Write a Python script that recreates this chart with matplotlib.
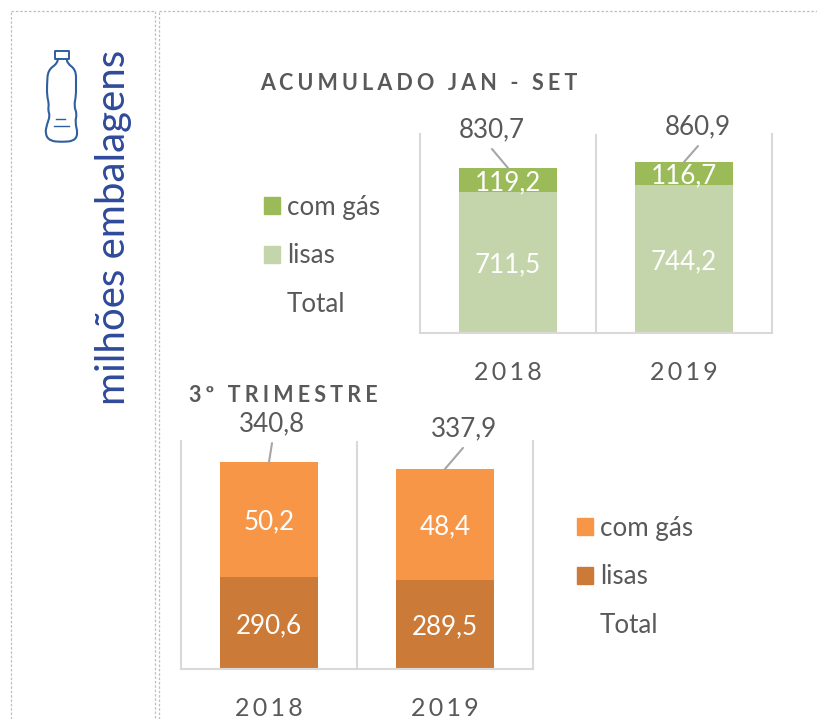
#!/usr/bin/env python3
"""Bottled water volumes: cumulative Jan-Sep (top) and third quarter (bottom)."""

import numpy as np
import matplotlib
matplotlib.use("Agg")
import matplotlib.pyplot as plt
from matplotlib.patches import Patch, PathPatch
from matplotlib.path import Path

# --- Data ---
years = ["2018", "2019"]
acum_lisas = [711.5, 744.2]
acum_gas = [119.2, 116.7]
acum_total = [830.7, 860.9]
trim_lisas = [290.6, 289.5]
trim_gas = [50.2, 48.4]
trim_total = [340.8, 337.9]
# the source draws the 3rd quarter segments out of proportion to their labels,
# so these are the heights
trim_lisas_drawn = [151.5, 146.6]
trim_gas_drawn = [189.3, 183.0]

W, H = 817, 719
GREY = "#595959"
BLUE = "#2F4A9A"
BOTTLE = "#2F5F9F"
HAIR = "\u200a"

plt.rcParams["font.family"] = ["Lato", "DejaVu Sans"]
plt.rcParams["font.size"] = 18.7

fig = plt.figure(figsize=(W / 100, H / 100), dpi=100)


def spaced(s, n=2):
    return (HAIR * n).join(s)


def px_axes(x0, y0, x1, y1):
    # axes from pixel box, y measured from the top
    return fig.add_axes([x0 / W, 1 - y1 / H, (x1 - x0) / W, (y1 - y0) / H])


def comma(v):
    return f"{v:.1f}".replace(".", ",")


def stacked(ax, low, high, low_txt, high_txt, total, c_low, c_high, ymax, label_off, leader_off):
    x = np.arange(len(years))
    b1 = ax.bar(x, low, 0.557, color=c_low)
    b2 = ax.bar(x, high, 0.557, bottom=low, color=c_high)
    inside = ax.bar_label(b1, labels=[comma(v) for v in low_txt], label_type="center", color="white")
    inside += ax.bar_label(b2, labels=[comma(v) for v in high_txt], label_type="center", color="white")
    for t in inside:
        t.set_va("center_baseline")
    tops = np.add(low, high)
    for i, t in enumerate(total):
        dx, dy = label_off[i]
        ax.annotate(comma(t), (i, tops[i]), xytext=(dx * 0.72, dy * 0.72),
                    textcoords="offset points", ha="center", va="center", color=GREY,
                    annotation_clip=False)
        lx, ly = leader_off[i]
        ax.annotate("", (i, tops[i]), xytext=(lx * 0.72, ly * 0.72),
                    textcoords="offset points", annotation_clip=False,
                    arrowprops=dict(arrowstyle="-", color="#A6A6A6", lw=1.5,
                                    shrinkA=0, shrinkB=0))
    ax.set_xlim(-0.5, 1.5)
    ax.set_ylim(0, ymax)
    ax.set_xticks(x, [spaced(y) for y in years], color=GREY, fontsize=18)
    ax.tick_params(axis="x", length=0, pad=20)
    ax.set_yticks([])
    ax.set_xticks([0.5], minor=True)
    ax.tick_params(axis="x", which="minor", length=0)
    ax.grid(True, axis="x", which="minor", color="#D9D9D9", lw=1.5)
    ax.set_axisbelow(True)
    ax.spines["top"].set_visible(False)
    for s in ["left", "right", "bottom"]:
        ax.spines[s].set_color("#D9D9D9")
        ax.spines[s].set_linewidth(1.5)


def add_legend(ax, colors, x, y):
    handles = [Patch(color=colors[0], label="com gás"), Patch(color=colors[1], label="lisas"),
               Patch(facecolor="none", edgecolor="none", label="Total")]
    ax.legend(handles=handles, loc="center left", frameon=False,
              bbox_to_anchor=(x / W, 1 - y / H), bbox_transform=fig.transFigure,
              handlelength=0.62, handleheight=0.62, handletextpad=0.27,
              labelspacing=0.92, borderpad=0, borderaxespad=0, labelcolor=GREY)


# --- Overlay for panels, bottle and titles (pixel coordinates) ---
bg = fig.add_axes([0, 0, 1, 1])
bg.set_xlim(0, W)
bg.set_ylim(H, 0)
bg.axis("off")
dash = dict(color="#BFBFBF", lw=0.9, ls=(0, (2, 1.5)))
bg.plot([11, 11], [H, 11], **dash)
bg.plot([11, 155], [11, 11], **dash)
bg.plot([155, 155], [11, H], **dash)
bg.plot([159, 159], [H, 11], **dash)
bg.plot([159, W], [11, 11], **dash)

# bottle icon, body as a smooth outline through control points
body = np.array([(58, 58), (58, 63), (48, 70), (47, 84), (47, 96), (49, 104), (48, 110),
                 (50, 116), (47, 124), (45, 134), (50, 141), (62, 142), (74, 141), (78, 134),
                 (75, 122), (77, 114), (74, 106), (76, 96), (76, 84), (76, 70), (67, 63),
                 (67, 58)], dtype=float)
verts = [tuple(body[0])]
codes = [Path.MOVETO]
for a, b in zip(body[1:-1], body[2:]):
    verts += [tuple(a), tuple((a + b) / 2)]
    codes += [Path.CURVE3, Path.CURVE3]
verts.append(tuple(body[-1]))
codes.append(Path.LINETO)
bg.add_patch(PathPatch(Path(verts, codes), fc="none", ec=BOTTLE, lw=1.5, joinstyle="round"))
bg.add_patch(plt.Rectangle((55, 50.5), 14, 8, fc="none", ec=BOTTLE, lw=1.4, joinstyle="round"))
bg.plot([56, 65], [119, 119], color=BOTTLE, lw=1)
bg.plot([54, 69], [126, 126], color=BOTTLE, lw=1)

bg.text(114, 227, "milhões embalagens", rotation=90, ha="center", va="center",
        color=BLUE, fontsize=29)
bg.text(419, 84, spaced("ACUMULADO JAN - SET", 3), ha="center", va="center",
        color=GREY, fontsize=15.5, fontweight="bold")
bg.text(283.5, 395, spaced("3º TRIMESTRE", 3), ha="center", va="center",
        color=GREY, fontsize=15.5, fontweight="bold")

# --- Charts ---
ax1 = px_axes(420, 134, 772, 333)
stacked(ax1, acum_lisas, acum_gas, acum_lisas, acum_gas, acum_total, "#C5D5AB", "#9BBB59", 1002,
        [(-16, 38), (14, 35.5)], [(-16, 19), (14, 16)])
add_legend(ax1, ["#9BBB59", "#C5D5AB"], 264, 256)

ax2 = px_axes(181, 441, 533, 669)
stacked(ax2, trim_lisas_drawn, trim_gas_drawn, trim_lisas, trim_gas, trim_total,
        "#CC7A37", "#F79646", 375.6,
        [(3, 38), (19, 40)], [(3, 19), (18, 21)])
add_legend(ax2, ["#F79646", "#CC7A37"], 577, 577)

fig.savefig("out.png", dpi=100)
